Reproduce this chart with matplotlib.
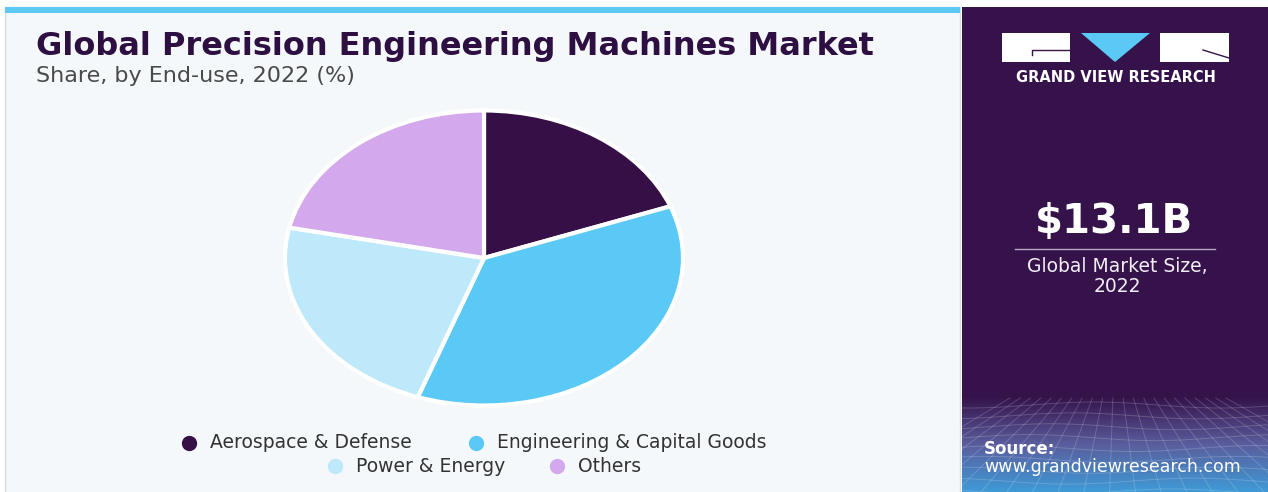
import numpy as np
import matplotlib.pyplot as plt
from matplotlib.patches import Rectangle, Polygon
from matplotlib.colors import LinearSegmentedColormap

# data
segments = ["Aerospace & Defense", "Engineering & Capital Goods", "Power & Energy", "Others"]
shares = [19.3, 36.1, 22.9, 21.7]
colors = ["#360F47", "#5BC9F5", "#BDE9FA", "#D4A8EC"]

title = "Global Precision Engineering Machines Market"
subtitle = "Share, by End-use, 2022 (%)"
market_size = "$13.1B"
market_label = ["Global Market Size,", "2022"]

W, H = 1268, 492
fig = plt.figure(figsize=(W / 100, H / 100), dpi=100)
fig.patch.set_facecolor("white")

# background layer in pixel coords
bg = fig.add_axes([0, 0, 1, 1])
bg.axis("off")

bg.add_patch(Rectangle((5, 7), 955, 490, facecolor="#F4F8FB", edgecolor="#D8DDE2", lw=1))
bg.add_patch(Rectangle((5, 7), 955, 6, facecolor="#5BC9F5", edgecolor="none"))
bg.add_patch(Rectangle((962, 7), 306, 490, facecolor="#35124A", edgecolor="none"))

# gradient at the bottom of the right panel
grad = np.linspace(0, 1, 100)[:, None]
cmap = LinearSegmentedColormap.from_list("g", ["#36154C", "#5A5E9E", "#3E9AD6"])
bg.imshow(grad, extent=(962, W, 492, 398), aspect="auto", cmap=cmap, zorder=1)
# faint mesh lines
for yy in np.linspace(405, 492, 9):
    xs = np.linspace(962, W, 40)
    bg.plot(xs, yy + 3 * np.sin((xs - 962) / 40 + yy / 20), color="white", alpha=0.18, lw=0.7, zorder=2)
for xx in np.linspace(940, 1300, 22):
    bg.plot([1115 + (xx - 1115) * 0.6, xx + (xx - 1115) * 0.5], [398, 492], color="white", alpha=0.18, lw=0.7, zorder=2)
bg.set_xlim(0, W)
bg.set_ylim(H, 0)

# logo
bg.add_patch(Rectangle((1002, 33), 68, 29, facecolor="white", edgecolor="none", zorder=3))
bg.plot([1070, 1032, 1032], [50, 50, 55], color="#35124A", lw=1, zorder=4)
bg.add_patch(Polygon([(1081, 33), (1150, 33), (1115, 62)], closed=True, facecolor="#5BC9F5", edgecolor="none", zorder=3))
bg.add_patch(Rectangle((1160, 33), 69, 29, facecolor="white", edgecolor="none", zorder=3))
bg.plot([1203, 1229], [50, 58], color="#35124A", lw=1, zorder=4)
bg.text(1116, 78, "GRAND VIEW RESEARCH", color="white", fontsize=10.5, fontweight="bold",
        ha="center", va="center", zorder=4)

# right panel figures
bg.text(1114, 222, market_size, color="white", fontsize=29, fontweight="bold",
        ha="center", va="center", zorder=4)
bg.plot([1015, 1215], [249, 249], color="#B9A8C8", lw=1, zorder=4)
bg.text(1117, 267, market_label[0], color="#F2EEF5", fontsize=13.5, ha="center", va="center", zorder=4)
bg.text(1117, 287, market_label[1], color="#F2EEF5", fontsize=13.5, ha="center", va="center", zorder=4)
bg.text(984, 449, "Source:", color="white", fontsize=12, fontweight="bold", ha="left", va="center", zorder=4)
bg.text(984, 467, "www.grandviewresearch.com", color="white", fontsize=12.5, ha="left", va="center", zorder=4)

# titles
bg.text(36, 47, title, color="#2D0F41", fontsize=23, fontweight="heavy", ha="left", va="center")
bg.text(36, 76, subtitle, color="#4A4A4A", fontsize=16, ha="left", va="center")

# pie (stretched ellipse)
cx, cy, rx, ry = 484, 258, 201, 149
pax = fig.add_axes([(cx - rx) / W, (H - cy - ry) / H, 2 * rx / W, 2 * ry / H])
pax.pie(shares, colors=colors, startangle=90, counterclock=False,
        wedgeprops=dict(edgecolor="white", linewidth=3))
pax.set_aspect("auto")
pax.set_xlim(-1.01, 1.01)
pax.set_ylim(-1.01, 1.01)
pax.axis("off")

# legend
leg_pos = [(189, 443), (476, 443), (335, 466), (557, 466)]
for (lx, ly), name, c in zip(leg_pos, segments, colors):
    bg.scatter([lx], [ly], s=100, color=c, zorder=4)
    bg.text(lx + 21, ly, name, color="#333333", fontsize=13.5, ha="left", va="center")

fig.savefig("out.png", dpi=100)
